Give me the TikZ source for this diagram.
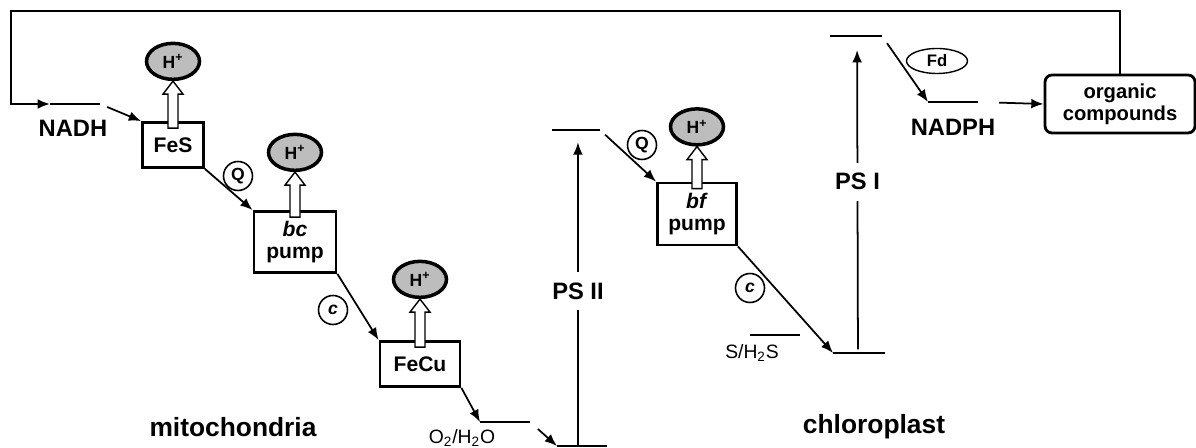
\documentclass[tikz,border=0pt]{standalone}
\usepackage{fontspec}
\setmainfont{Liberation Sans}
\usetikzlibrary{arrows.meta, positioning, calc, shapes.geometric}
\definecolor{hGray}{HTML}{BDBDBD}

\tikzset{
  pumpbox/.style={draw, line width=1.6pt, align=center, inner sep=0pt,
    font=\fontsize{12}{13}\selectfont\bfseries},
  hion/.style={ellipse, draw, line width=2pt, fill=hGray, inner sep=0pt,
    minimum width=1.06cm, minimum height=0.72cm, font=\fontsize{10}{10}\selectfont\bfseries},
  carrier/.style={circle, draw, line width=0.9pt, minimum size=0.58cm, inner sep=0pt,
    font=\fontsize{10}{10}\selectfont\bfseries},
  level/.style={line width=1pt},
  flow/.style={line width=1pt, -{Latex[length=7pt,width=5.5pt]}},
  lbl/.style={font=\fontsize{13.5}{14}\selectfont\bfseries},
  small/.style={font=\fontsize{11}{12}\selectfont},
  title/.style={font=\fontsize{15}{16}\selectfont\bfseries}
}

\begin{document}
\begin{tikzpicture}[x=0.02cm, y=-0.02cm]
  \useasboundingbox (0,0) rectangle (1196,448);

  % pumps and H+ ions
  \node[pumpbox, minimum width=1.22cm, minimum height=0.9cm] (fes) at (173,145) {FeS};
  \node[pumpbox, minimum width=1.64cm, minimum height=1.22cm] (bc) at (295,242) {\textit{bc}\\pump};
  \node[pumpbox, minimum width=1.6cm, minimum height=0.9cm] (fecu) at (420,364) {FeCu};
  \node[pumpbox, minimum width=1.58cm, minimum height=1.24cm] (bf) at (697,214) {\textit{bf}\\pump};
  \node[hion, above=0.8cm of fes] (hfes) {H\textsuperscript{+}};
  \node[hion, above=0.76cm of bc] (hbc) {H\textsuperscript{+}};
  \node[hion, above=0.82cm of fecu] (hfecu) {H\textsuperscript{+}};
  \node[hion, above=0.7cm of bf] (hbf) {H\textsuperscript{+}};
  \foreach \b/\h in {fes/hfes, bc/hbc, fecu/hfecu, bf/hbf}
    \draw[line width=0.8pt, fill=white] ($(\b.north)+(-5,7)$) -- ($(\h.south)+(-5,13)$)
      -- ($(\h.south)+(-10,13)$) -- (\h.south) -- ($(\h.south)+(10,13)$)
      -- ($(\h.south)+(5,13)$) -- ($(\b.north)+(5,7)$) -- cycle;

  % carriers
  \node[carrier] (q1) at (238,176) {Q};
  \node[carrier] (c1) at (333,310) {\textit{c}};
  \node[carrier] (q2) at (642,145) {Q};
  \node[carrier] (c2) at (750,288) {\textit{c}};
  \node[ellipse, draw, line width=0.8pt, minimum width=1.22cm, minimum height=0.5cm,
    inner sep=0pt, font=\fontsize{9.5}{9.5}\selectfont\bfseries] (fd) at (937,61) {Fd};
  \node[draw, rounded corners=4pt, line width=1.6pt, align=center, minimum width=3cm,
    minimum height=1.16cm, font=\fontsize{11.5}{12.5}\selectfont\bfseries] (org) at (1120,104)
    {organic\\compounds};

  % energy levels
  \coordinate (nadhL) at (50,104);   \coordinate (nadhR) at (100,104);
  \coordinate (o2L) at (480,422);    \coordinate (o2R) at (530,422);
  \coordinate (ps2bL) at (557,446);  \coordinate (ps2bR) at (607,446);
  \coordinate (ps2tL) at (552,130);  \coordinate (ps2tR) at (600,130);
  \coordinate (shL) at (750,335);    \coordinate (shR) at (800,335);
  \coordinate (ps1bL) at (833,353);  \coordinate (ps1bR) at (885,353);
  \coordinate (ps1tL) at (830,36);   \coordinate (ps1tR) at (882,36);
  \coordinate (nadphL) at (928,102); \coordinate (nadphR) at (978,102);
  \coordinate (loop) at (11,11);
  \foreach \l/\r in {nadhL/nadhR, o2L/o2R, ps2bL/ps2bR, ps2tL/ps2tR, shL/shR,
    ps1bL/ps1bR, ps1tL/ps1tR, nadphL/nadphR}
    \draw[level] (\l) -- (\r);

  \node[lbl] (nadh) at (73,128) {NADH};
  \node[lbl] (nadph) at (953,127) {NADPH};
  \node[small] (o2) at (462,438) {O\textsubscript{2}/H\textsubscript{2}O};
  \node[small] (sh2s) at (752,353) {S/H\textsubscript{2}S};
  \node[title] (mito) at (233,427) {mitochondria};
  \node[title] (chloro) at (874,427) {chloroplast};

  % electron flow
  \draw[flow] (org.north) |- (loop) |- (nadhL);
  \draw[flow, shorten <=4.4pt] (nadhR) -- (fes.north west);
  \draw[flow] (fes.south east) -- (bc.north west);
  \draw[flow] (bc.south east) -- (fecu.north west);
  \draw[flow] (fecu.south east) -- (o2L);
  \draw[flow, shorten <=6pt] (o2R) -- (ps2bL);
  \draw[flow, shorten >=7pt] ($(ps2bL)!0.42!(ps2bR)$) -- node[lbl, fill=white, inner xsep=0pt, inner ysep=6pt, pos=0.49] (ps2) {PS II} ($(ps2tL)!0.54!(ps2tR)$);
  \draw[flow, shorten <=4pt] (ps2tR) -- (bf.north west);
  \draw[flow] (bf.south east) -- (ps1bL);
  \draw[flow, shorten <=2pt, shorten >=8pt] ($(ps1bL)!0.48!(ps1bR)$) -- node[lbl, fill=white, inner xsep=0pt, inner ysep=6pt, pos=0.54] (ps1) {PS I} ($(ps1tL)!0.52!(ps1tR)$);
  \draw[flow, shorten <=5pt] (ps1tR) -- (nadphL);
  \draw[flow, shorten <=12pt] (nadphR) -- (org.west);
\end{tikzpicture}
\end{document}
